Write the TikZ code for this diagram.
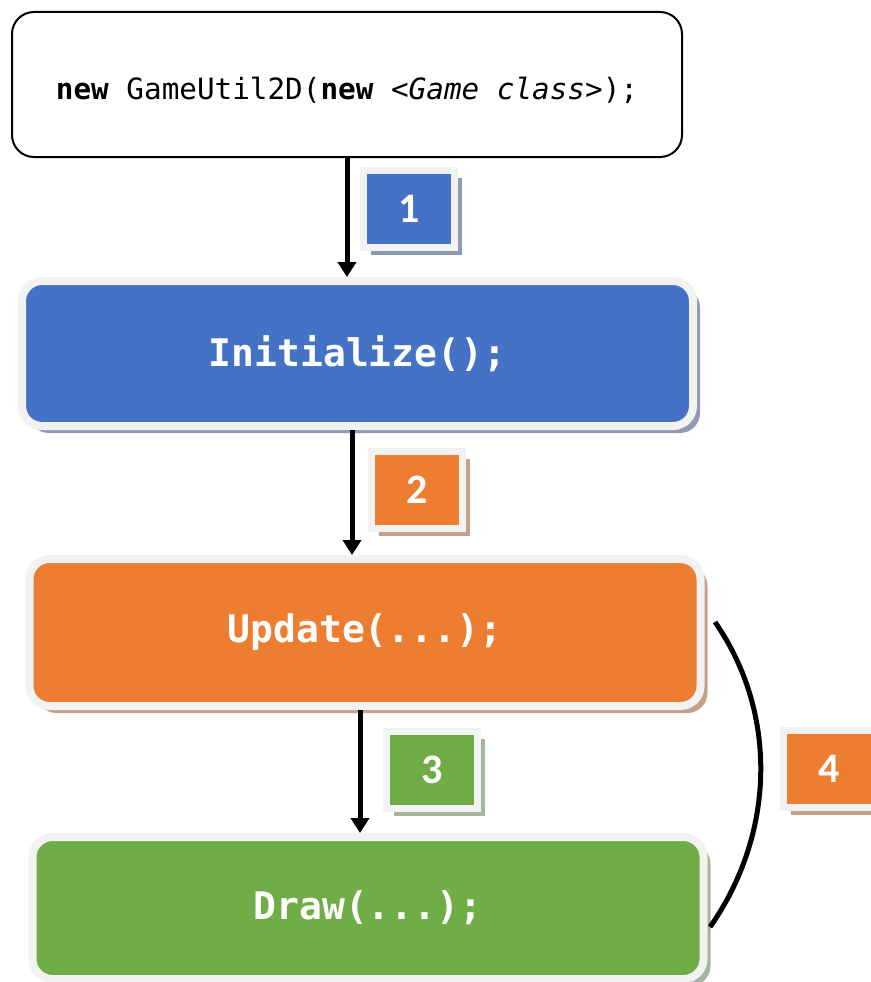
\documentclass[tikz,border=0pt]{standalone}
\usepackage{fontspec}
\usetikzlibrary{arrows.meta,shadows}
\newfontfamily\codefont{DejaVu Sans Mono}
\newfontfamily\numfont{Carlito}
\definecolor{blueF}{HTML}{4472C4}
\definecolor{orangeF}{HTML}{ED7D31}
\definecolor{greenF}{HTML}{70AD47}
\definecolor{lightB}{HTML}{F2F2F2}
\definecolor{blueSh}{HTML}{8F9BB3}
\definecolor{orangeSh}{HTML}{C8A088}
\definecolor{greenSh}{HTML}{A5B59A}
\begin{document}
\begin{tikzpicture}[x=1pt,y=-1pt,
  topbox/.style={rounded corners=22pt, draw=black, line width=2pt, fill=white,
    minimum width=670pt, minimum height=145pt, inner sep=0pt,
    font=\codefont\fontsize{29.3}{35}\selectfont},
  mainbox/.style={rounded corners=20pt, draw=lightB, line width=8pt,
    minimum width=671pt, inner sep=0pt, text=white,
    font=\codefont\bfseries\fontsize{38}{44}\selectfont},
  lblbox/.style={draw=lightB, line width=7pt, minimum width=91pt, minimum height=77pt,
    inner sep=0pt, text=white, font=\numfont\bfseries\fontsize{42}{50}\selectfont},
  arr/.style={line width=5pt, -{Triangle[width=18pt,length=15pt]}},
  loop/.style={line width=5pt}
]
\useasboundingbox (0,0) rectangle (870,982);

\node[topbox] (top) at (347,84.5) {\raisebox{-15pt}[0pt][0pt]{{\bfseries new} GameUtil2D({\bfseries new} \textit{<Game class>});}};

\node[mainbox, fill=blueF, minimum height=145pt,
  drop shadow={shadow xshift=7pt, shadow yshift=-7pt, fill=blueSh, opacity=1}]
  (init) at (357.5,353.5) {\raisebox{2pt}{Initialize();}};
\node[mainbox, fill=orangeF, minimum height=147pt,
  drop shadow={shadow xshift=7pt, shadow yshift=-7pt, fill=orangeSh, opacity=1}]
  (upd) at (365,632.5) {\raisebox{2pt}{Update(...);}};
\node[mainbox, fill=greenF, minimum height=142pt,
  drop shadow={shadow xshift=7pt, shadow yshift=-7pt, fill=greenSh, opacity=1}]
  (drw) at (368,908) {\raisebox{1pt}{Draw(...);}};

\node[lblbox, fill=blueF,
  drop shadow={shadow xshift=7pt, shadow yshift=-7pt, fill=blueSh, opacity=1}]
  (l1) at (409,209) {1};
\node[lblbox, fill=orangeF,
  drop shadow={shadow xshift=7pt, shadow yshift=-7pt, fill=orangeSh, opacity=1}]
  (l2) at (417,490) {2};
\node[lblbox, fill=greenF,
  drop shadow={shadow xshift=7pt, shadow yshift=-7pt, fill=greenSh, opacity=1}]
  (l3) at (432,770) {3};
\node[lblbox, fill=orangeF,
  drop shadow={shadow xshift=7pt, shadow yshift=-7pt, fill=orangeSh, opacity=1}]
  (l4) at (829,769) {4};

\draw[arr] (top.south) -- (top.south |- init.north);
\draw[arr] ([xshift=-5.5pt]init.south) -- ([xshift=-5.5pt]init.south |- upd.north);
\draw[arr] ([xshift=-5pt]upd.south) -- ([xshift=-5pt]upd.south |- drw.north);

\coordinate (arcS) at (715,622);
\coordinate (arcE) at (710,927);
\draw[loop] (arcS) .. controls (779.5,715) and (774,836) .. (arcE);
\end{tikzpicture}
\end{document}
